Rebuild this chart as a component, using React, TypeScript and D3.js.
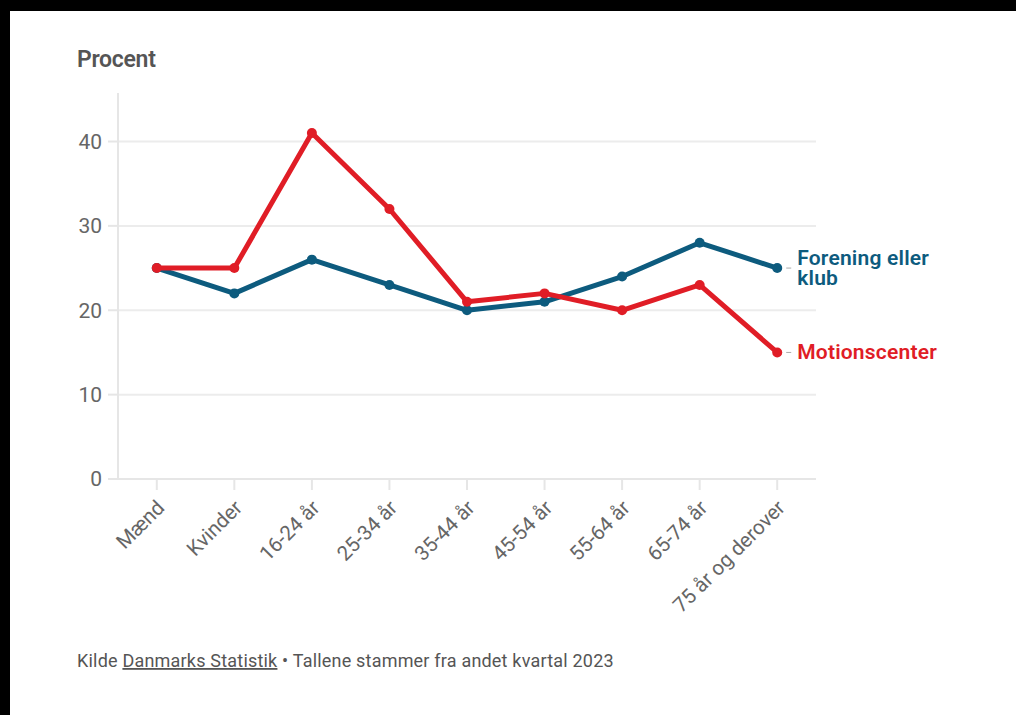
import React from "react";
import * as d3 from "d3";

const categories = ["Mænd", "Kvinder", "16-24 år", "25-34 år", "35-44 år", "45-54 år", "55-64 år", "65-74 år", "75 år og derover"];
const foreningValues = [25, 22, 26, 23, 20, 21, 24, 28, 25];
const motionValues = [25, 25, 41, 32, 21, 22, 20, 23, 15];
const yTicks = [0, 10, 20, 30, 40];

const series = [
  { name: ["Forening eller", "klub"], values: foreningValues, color: "#0d5b7e" },
  { name: ["Motionscenter"], values: motionValues, color: "#e01d26" },
];

const W = 1016;
const H = 715;
const left = 118;
const right = 816;
const top = 93;
const bottom = 479;

export default function App() {
  const x = d3.scalePoint<string>().domain(categories).range([left, right]).padding(0.5);
  const y = d3.scaleLinear().domain([0, 45.75]).range([bottom, top]);
  const line = d3
    .line<number>()
    .x((_, i) => x(categories[i]) as number)
    .y((d) => y(d));
  const font = "Roboto, 'Open Sans', sans-serif";
  const last = categories[categories.length - 1];
  return (
    <svg
      width={W}
      height={H}
      style={{ position: "absolute", left: 0, top: 0, fontFamily: font }}
    >
      <rect x={0} y={0} width={W} height={H} fill="#000" />
      <rect x={10} y={11} width={W - 10} height={H - 11} fill="#fff" />
      <text x={77} y={67} fontSize={23} fontWeight={600} fill="#555" letterSpacing={-0.3}>
        Procent
      </text>
      {yTicks.map((t) => (
        <g key={t}>
          {t > 0 && (
            <line x1={left} x2={right} y1={y(t)} y2={y(t)} stroke="#ececec" strokeWidth={2} />
          )}
          <line x1={left - 10} x2={left} y1={y(t)} y2={y(t)} stroke="#e6e6e6" strokeWidth={2} />
          <text x={left - 16} y={y(t)} dy="0.35em" textAnchor="end" fontSize={21} fill="#666">
            {t}
          </text>
        </g>
      ))}
      <line x1={left} x2={left} y1={top} y2={bottom} stroke="#e6e6e6" strokeWidth={2} />
      <line x1={left} x2={right} y1={bottom} y2={bottom} stroke="#e6e6e6" strokeWidth={2} />
      {categories.map((c) => {
        const cx = x(c) as number;
        return (
          <g key={c}>
            <line x1={cx} x2={cx} y1={bottom} y2={bottom + 11} stroke="#e6e6e6" strokeWidth={2} />
            <text
              transform={`translate(${cx + 9},${bottom + 30}) rotate(-45)`}
              textAnchor="end"
              fontSize={20.5}
              fill="#666"
            >
              {c}
            </text>
          </g>
        );
      })}
      {series.map((s) => (
        <g key={s.name.join(" ")}>
          <path d={line(s.values) || ""} fill="none" stroke={s.color} strokeWidth={5} strokeLinejoin="round" />
          {s.values.map((v, i) => (
            <circle key={i} cx={x(categories[i]) as number} cy={y(v)} r={5} fill={s.color} />
          ))}
          <line
            x1={(x(last) as number) + 9}
            x2={(x(last) as number) + 14}
            y1={y(s.values[s.values.length - 1])}
            y2={y(s.values[s.values.length - 1])}
            stroke="#aaa"
            strokeWidth={1}
          />
          {s.name.map((n, k) => (
            <text
              key={k}
              x={(x(last) as number) + 20}
              y={y(s.values[s.values.length - 1]) + 7 - (s.name.length - 1) * 10 + k * 20}
              fontSize={21}
              fontWeight={600}
              fill={s.color}
              letterSpacing={0.2}
            >
              {n}
            </text>
          ))}
        </g>
      ))}
      <text x={77} y={667} fontSize={18} fill="#555" letterSpacing={0.2}>
        Kilde{" "}
        <tspan textDecoration="underline">Danmarks Statistik</tspan>
        {" • Tallene stammer fra andet kvartal 2023"}
      </text>
    </svg>
  );
}
